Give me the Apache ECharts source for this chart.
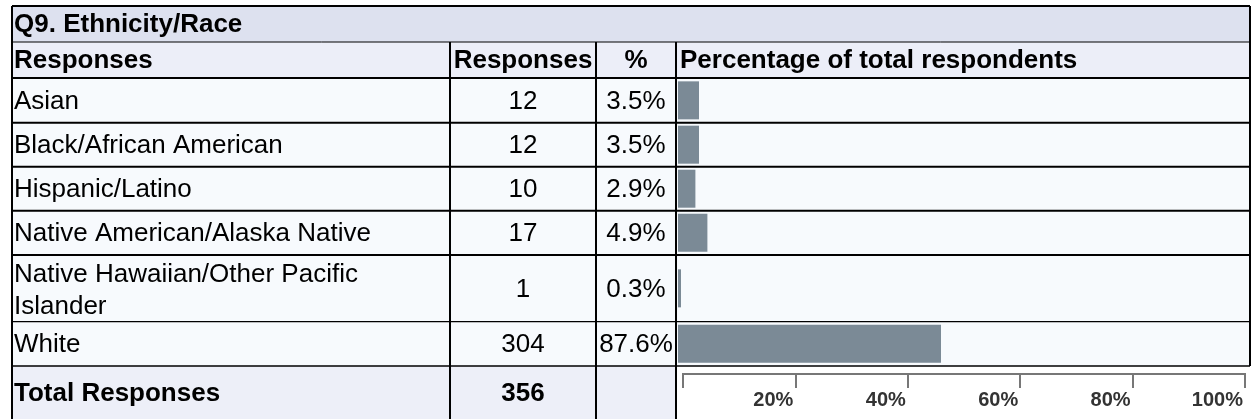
<!DOCTYPE html>
<html>
<head>
<meta charset="utf-8">
<script src="https://cdn.jsdelivr.net/npm/echarts@6/dist/echarts.min.js"></script>
<style>
html,body{margin:0;padding:0;background:#ffffff;}
#chart{width:1254px;height:419px;}
</style>
</head>
<body>
<div id="chart"></div>
<script>
// ---- data ----
const titleText = 'Q9. Ethnicity/Race';
const headerLabels = ['Responses', 'Responses', '%', 'Percentage of total respondents'];
const categories = ['Asian', 'Black/African American', 'Hispanic/Latino',
  'Native American/Alaska Native', 'Native Hawaiian/Other Pacific Islander', 'White'];
const responses = [12, 12, 10, 17, 1, 304];
const percents = [3.5, 3.5, 2.9, 4.9, 0.3, 87.6];
const totalLabel = 'Total Responses';
const totalResponses = 356;
const rulerTicks = [0, 20, 40, 60, 80, 100];

// ---- layout ----
const FONT = '"Liberation Sans", Arial, sans-serif';
const FS = 26;
const tLeft = 12, tRight = 1250, tTop = 6, tBottom = 419;
const colX = [450, 596, 676];
const titleBottom = 42, headerBottom = 78;
const rowBottoms = [122.7, 166.7, 210.7, 255, 321.7, 366];
const rowTops = [headerBottom].concat(rowBottoms.slice(0, -1));
const col2C = (colX[0] + colX[1]) / 2, col3C = (colX[1] + colX[2]) / 2;
const RULER_Y = 374;

const g = [];
function rect(x, y, w, h, fill, z) {
  g.push({type: 'rect', z: z == null ? -10 : z, shape: {x: x, y: y, width: w, height: h}, style: {fill: fill}, silent: true});
}
function line(x1, y1, x2, y2, w, c) {
  g.push({type: 'line', z: 10, shape: {x1: x1, y1: y1, x2: x2, y2: y2}, style: {stroke: c || '#000', lineWidth: w}, silent: true});
}
function text(t, x, y, align, bold, extra) {
  const st = Object.assign({text: t, x: 0, y: 0, fill: '#000', fontSize: FS, fontFamily: FONT,
    fontWeight: bold ? 'bold' : 'normal', align: align, verticalAlign: 'middle'}, extra || {});
  g.push({type: 'text', z: 11, x: x, y: y, style: st, silent: true});
}

// backgrounds
rect(tLeft, tTop, tRight - tLeft, titleBottom - tTop, '#dde1ef');
rect(tLeft, titleBottom, tRight - tLeft, headerBottom - titleBottom, '#eceef8');
rect(tLeft, headerBottom, tRight - tLeft, rowBottoms[5] - headerBottom, '#f7fafd');
rect(tLeft, rowBottoms[5], colX[2] - tLeft, tBottom - rowBottoms[5], '#edeff8');
rect(colX[2], rowBottoms[5], tRight - colX[2], tBottom - rowBottoms[5], '#ffffff');

// text
text(titleText, 14, (tTop + titleBottom) / 2 + 1, 'left', true);
const hy = (titleBottom + headerBottom) / 2 + 1;
text(headerLabels[0], 14, hy, 'left', true);
text(headerLabels[1], col2C, hy, 'center', true);
text(headerLabels[2], col3C, hy, 'center', true);
text(headerLabels[3], colX[2] + 4, hy, 'left', true);
categories.forEach(function (c, i) {
  const cy = (rowTops[i] + rowBottoms[i]) / 2 + 1;
  text(c, 14, cy + (i === 4 ? 1 : 0), 'left', false, {width: 430, overflow: 'break', lineHeight: 32});
  text(String(responses[i]), col2C, cy, 'center', false);
  text(percents[i].toFixed(1) + '%', col3C, cy, 'center', false);
});
const ty = 394;
text(totalLabel, 14, ty, 'left', true);
text(String(totalResponses), col2C, ty, 'center', true);

// grid lines
line(tLeft, tTop, tRight, tTop, 2);
line(tLeft, tTop, tLeft, tBottom, 2);
line(tRight, tTop, tRight, rowBottoms[5], 2);
line(tLeft, titleBottom, tRight, titleBottom, 1);
line(tLeft, headerBottom, tRight, headerBottom, 2);
rowBottoms.forEach(function (y, i) { line(tLeft, y, tRight, y, i >= 4 ? 1.3 : 2); });
colX.forEach(function (x) { line(x, titleBottom, x, tBottom, 2); });

// ---- bar grids (one per row) ----
const BAR_LEFT = 678, BAR_W = 263, BAR_MAX = 43.83;
const grids = [], xAxes = [], yAxes = [], series = [];
categories.forEach(function (c, i) {
  grids.push({left: BAR_LEFT, top: rowTops[i], width: BAR_W, height: rowBottoms[i] - rowTops[i]});
  xAxes.push({gridIndex: i, type: 'value', min: 0, max: BAR_MAX, show: false});
  yAxes.push({gridIndex: i, type: 'category', data: [c], show: false});
  series.push({type: 'bar', xAxisIndex: i, yAxisIndex: i, data: [percents[i]], barWidth: 38,
    barMinHeight: 3, clip: true, itemStyle: {color: '#7b8a96'}, silent: true, animation: false});
});
// ruler axis (bottom edge of an empty grid sits on the ruler line)
const ri = categories.length;
const rMin = rulerTicks[0], rMax = rulerTicks[rulerTicks.length - 1];
grids.push({left: 683, top: RULER_Y - 30, width: 562, height: 30});
xAxes.push({gridIndex: ri, type: 'value', position: 'bottom', z: 20, min: rMin, max: rMax,
  interval: rulerTicks[1] - rulerTicks[0],
  axisLine: {show: true, onZero: false, lineStyle: {color: '#777777', width: 2}},
  axisTick: {show: true, inside: false, length: 14, lineStyle: {color: '#777777', width: 2}},
  splitLine: {show: false},
  axisLabel: {show: true, margin: 16, align: 'right', verticalAlign: 'top',
    padding: [0, 2, 0, 0], color: '#333333', fontSize: 20, fontWeight: 'bold', fontFamily: FONT,
    formatter: function (v) { return v === 0 ? '' : v + '%'; }}});
yAxes.push({gridIndex: ri, type: 'value', min: 0, max: 1, show: false});

const chart = echarts.init(document.getElementById('chart'), null, {renderer: 'canvas'});
chart.setOption({
  animation: false,
  backgroundColor: '#ffffff',
  grid: grids, xAxis: xAxes, yAxis: yAxes, series: series,
  graphic: {elements: g}
});
// ruler baseline as a filled strip, placed through the ruler axis scale
const rx0 = chart.convertToPixel({xAxisIndex: ri}, rMin);
const rx1 = chart.convertToPixel({xAxisIndex: ri}, rMax);
rect(rx0 - 1, RULER_Y - 1, rx1 - rx0 + 2, 2, '#777777', 40);
chart.setOption({graphic: {elements: g}}, {replaceMerge: ['graphic']});
</script>
</body>
</html>
